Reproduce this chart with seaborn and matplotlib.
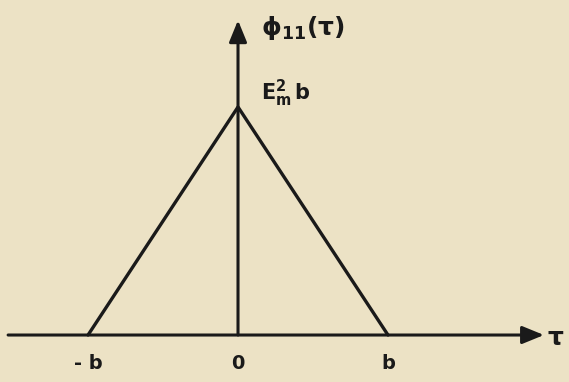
import matplotlib
matplotlib.use("Agg")
import matplotlib.pyplot as plt
import seaborn as sns
import pandas as pd

# Triangular autocorrelation: zero at ±b, peak E_m^2 b at tau = 0
tau = [-1.0, 0.0, 1.0]
phi = [0.0, 1.0, 0.0]
tick_pos = [-1.0, 0.0, 1.0]
tick_labels = ["- b", "0", "b"]

BG = "#ECE2C5"
INK = "#1a1a1a"

sns.set_theme(style="white")
plt.rcParams["font.family"] = ["DejaVu Sans"]
plt.rcParams["mathtext.fontset"] = "dejavusans"
plt.rcParams["mathtext.default"] = "regular"

fig = plt.figure(figsize=(5.69, 3.82), dpi=100, facecolor=BG)
ax = fig.add_axes([0, 0, 1, 1])
ax.set_facecolor(BG)
ax.set_xlim(-1.587, 2.207)
ax.set_ylim(-0.206, 1.469)
ax.axis("off")

df = pd.DataFrame({"tau": tau, "phi": phi})
sns.lineplot(data=df, x="tau", y="phi", ax=ax, color=INK, linewidth=2.4,
             sort=False)

# axes with arrowheads
arrow = dict(arrowstyle="-|>,head_length=1.1,head_width=0.45", color=INK,
             lw=2.2, shrinkA=0, shrinkB=0)
ax.annotate("", xy=(2.04, 0.0), xytext=(-1.533, 0.0), arrowprops=arrow)
ax.annotate("", xy=(0.0, 1.38), xytext=(0.0, 0.0), arrowprops=arrow)

# tick labels under the axis
for x, lab in zip(tick_pos, tick_labels):
    ax.text(x, -0.085, lab, ha="center", va="top", fontsize=14,
            fontweight="bold", color=INK)

ax.text(2.06, -0.015, r"$\tau$", ha="left", va="center", fontsize=18,
        color=INK, fontweight="bold")
ax.text(0.155, 1.345, r"$\phi_{11}(\tau)$", ha="left", va="center",
        fontsize=18, color=INK, fontweight="bold")
ax.text(0.15, 1.06, r"$E_m^2\,b$", ha="left", va="center", fontsize=15,
        color=INK, fontweight="bold")

fig.savefig("out.png", dpi=100, facecolor=BG)
